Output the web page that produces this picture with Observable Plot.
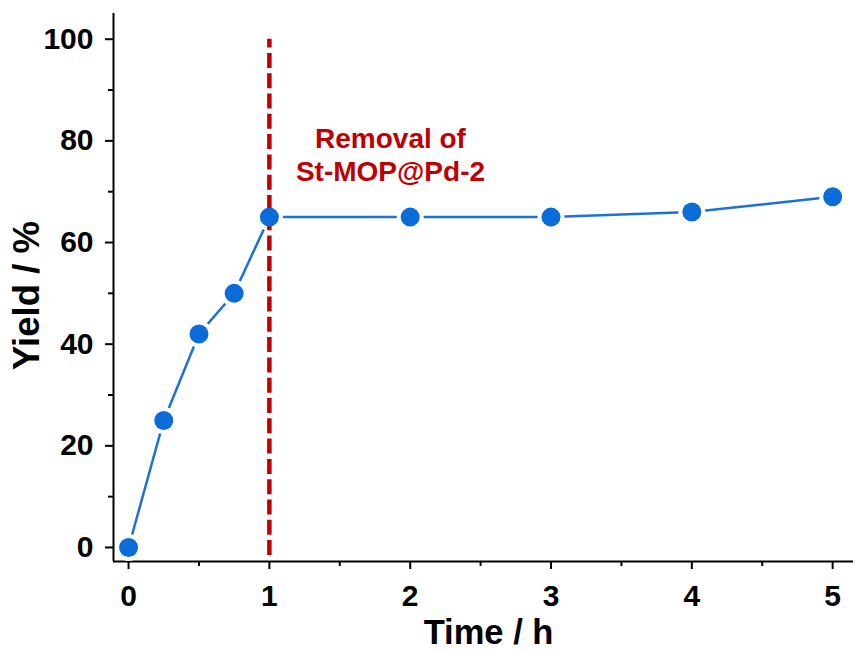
<!DOCTYPE html>
<html>
<head>
<meta charset="utf-8">
<script src="https://cdn.jsdelivr.net/npm/d3@7"></script>
<script src="https://cdn.jsdelivr.net/npm/@observablehq/plot@0.6"></script>
<style>
  html, body { margin: 0; padding: 0; background: #fff; }
  svg { font-family: "Liberation Sans", Arial, sans-serif; }
</style>
</head>
<body>
<div id="chart"></div>
<script>
// Data
const timeH = [0, 0.25, 0.5, 0.75, 1, 2, 3, 4, 5];
const yieldPct = [0, 25, 42, 50, 65, 65, 65, 66, 69];
const xTicks = [0, 1, 2, 3, 4, 5];
const xMinorTicks = [0.5, 1.5, 2.5, 3.5, 4.5];
const yTicks = [0, 20, 40, 60, 80, 100];
const yMinorTicks = [10, 30, 50, 70, 90];
const xDomain = [-0.107, 5.148];
const yDomain = [-2.76, 105.06];
const removalTime = [1];
const removalRange = [-1.6, 100];
const annotation = [{x: 1.86, y: 77.5, text: "Removal of\nSt-MOP@Pd-2"}];
const xLabel = "Time / h";
const yLabel = "Yield / %";

const pts = timeH.map((t, i) => ({t, y: yieldPct[i]}));
const lineColor = "#1a72d4";
const dotColor = "#0a6cd8";
const red = "#c00000";

const chart = Plot.plot({
  width: 853,
  height: 650,
  marginLeft: 113,
  marginRight: 0,
  marginTop: 13,
  marginBottom: 89,
  style: {fontFamily: '"Liberation Sans", Arial, sans-serif', background: "#fff"},
  x: {domain: xDomain, label: null},
  y: {domain: yDomain, label: null},
  marks: [
    // axis lines
    Plot.ruleX([xDomain[0]], {y1: yDomain[0], y2: yDomain[1], stroke: "#000", strokeWidth: 2}),
    Plot.ruleY([yDomain[0]], {x1: xDomain[0], x2: xDomain[1], stroke: "#000", strokeWidth: 2}),
    // major and minor ticks
    Plot.axisX({ticks: xTicks, tickSize: 8, tickPadding: 15, strokeWidth: 2, fontSize: 30, fontWeight: "bold", fill: "#000", tickFormat: d => String(d), label: null}),
    Plot.axisX({ticks: xMinorTicks, tickSize: 5, strokeWidth: 2, text: null, label: null}),
    Plot.axisY({ticks: yTicks, tickSize: 8, tickPadding: 12, strokeWidth: 2, fontSize: 30, fontWeight: "bold", fill: "#000", tickFormat: d => String(d), label: null}),
    Plot.axisY({ticks: yMinorTicks, tickSize: 5, strokeWidth: 2, text: null, label: null}),
    // axis titles
    Plot.text([xLabel], {frameAnchor: "bottom", textAnchor: "middle", dy: 71, dx: 5, fontSize: 34.5, fontWeight: "bold", fill: "#000", lineAnchor: "middle"}),
    Plot.text([yLabel], {frameAnchor: "left", textAnchor: "middle", rotate: -90, dx: -86, dy: 8, fontSize: 36.5, fontWeight: "bold", fill: "#000", lineAnchor: "middle"}),
    // data line
    Plot.line(pts, {x: "t", y: "y", stroke: lineColor, strokeWidth: 2.5}),
    // white halo gaps around markers
    Plot.dot(pts, {x: "t", y: "y", r: 13.5, fill: "#fff", stroke: "none"}),
    // removal line
    Plot.ruleX(removalTime, {y1: removalRange[0], y2: removalRange[1], stroke: red, strokeWidth: 4.5, strokeDasharray: "15,5.3"}),
    // markers
    Plot.dot(pts, {x: "t", y: "y", r: 9.5, fill: dotColor, stroke: "none"}),
    // annotation
    Plot.text(annotation, {x: "x", y: "y", text: "text", fill: red, fontSize: 28, fontWeight: "bold", lineHeight: 1.2, lineAnchor: "middle"})
  ]
});
document.getElementById("chart").appendChild(chart);
</script>
</body>
</html>
